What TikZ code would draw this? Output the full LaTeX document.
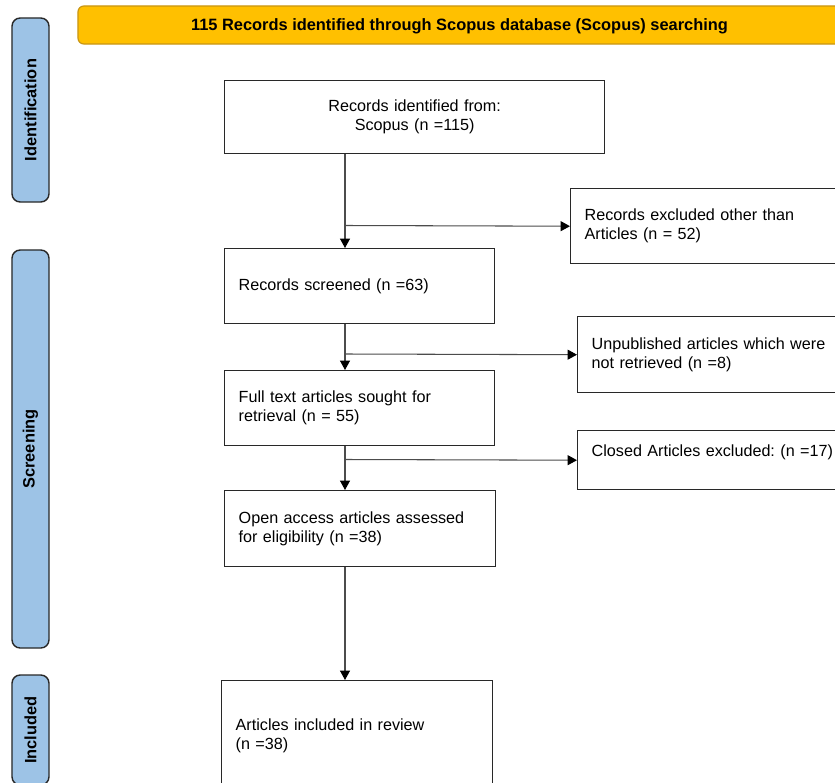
\documentclass[tikz,border=0pt]{standalone}
\usepackage{fontspec}
\setmainfont{Liberation Sans}
\usetikzlibrary{arrows.meta}
\definecolor{amber}{RGB}{255,192,0}
\definecolor{amberline}{RGB}{200,150,20}
\definecolor{phase}{RGB}{157,195,230}
\definecolor{edge}{RGB}{40,40,40}
\frenchspacing

\begin{document}
\begin{tikzpicture}[x=0.03cm, y=-0.03cm,
	box/.style={draw=edge, line width=1.2pt, fill=white, anchor=north west, inner xsep=0.42cm, align=left,
		font=\fontsize{13.8}{16.2}\selectfont},
	phasebar/.style={draw=edge, line width=1.2pt, fill=phase, rounded corners=7pt, rotate=90,
		minimum height=1.11cm, font=\fontsize{14}{16}\selectfont\bfseries},
	link/.style={draw=black!70, line width=0.9pt, -{Triangle[length=8pt,width=8.5pt,color=black]}},]

    \path[use as bounding box, clip] (0,0) rectangle (835,783);
    \fill[white] (0,0) rectangle (835,783);

    \node[draw=amberline, fill=amber, line width=1pt, rounded corners=5pt, minimum width=22.89cm, minimum height=1.14cm,
	font=\fontsize{14}{16}\selectfont\bfseries, text depth=0pt] (banner) at (459.5,25) {115 Records identified through Scopus database (Scopus) searching};

    \node[phasebar, minimum width=5.52cm] (ident) at (30.5,110) {Identification};
    \node[phasebar, minimum width=11.94cm] (screen) at (30.5,449) {Screening};
    \node[phasebar, minimum width=3.3cm] (incl) at (30.5,730) {Included};

    \node[box, align=center, minimum width=11.4cm, minimum height=2.19cm, text width=10.56cm] (found) at (224,80)
	{Records identified from:\\Scopus (n =115)};
    \node[box, minimum width=8.4cm, minimum height=2.25cm, text width=7.56cm] (other) at (570,188)
	{Records excluded other than\\Articles (n = 52)};
    \node[box, minimum width=8.1cm, minimum height=2.25cm, text width=7.26cm] (screened) at (224,248)
	{Records screened (n =63)};
    \node[box, minimum width=8.64cm, minimum height=2.28cm, text width=7.8cm] (unpub) at (577,316)
	{Unpublished articles which were\\not retrieved (n =8)};
    \node[box, minimum width=8.1cm, minimum height=2.25cm, text width=7.26cm] (sought) at (224,370)
	{Full text articles sought for\\retrieval (n = 55)};
    \node[box, minimum width=8.64cm, minimum height=1.77cm, text width=7.8cm, text depth=0.55cm] (closed) at (577,430)
	{Closed Articles excluded: (n =17)};
    \node[box, minimum width=8.13cm, minimum height=2.28cm, text width=7.29cm] (open) at (224,490)
	{Open access articles assessed\\for eligibility (n =38)};
    \node[box, minimum width=8.13cm, minimum height=3.3cm, text width=7.29cm] (review) at (221,680)
	{Articles included in review\\(n =38)};

    \coordinate (j1) at (345,225.5);
    \coordinate (j2) at (345,354);
    \coordinate (j3) at (345,459.5);

    \draw[link] (found.south -| j1) -- (screened.north -| j1);
    \draw[link] (j1) -- (other.west);
    \draw[link] (screened.south -| j2) -- (sought.north -| j2);
    \draw[link] (j2) -- (unpub.west);
    \draw[link] (sought.south -| j3) -- (open.north -| j3);
    \draw[link] (j3) -- (closed.west);
    \draw[link] (open.south -| j3) -- (review.north -| j3);
    \end{tikzpicture}
\end{document}
